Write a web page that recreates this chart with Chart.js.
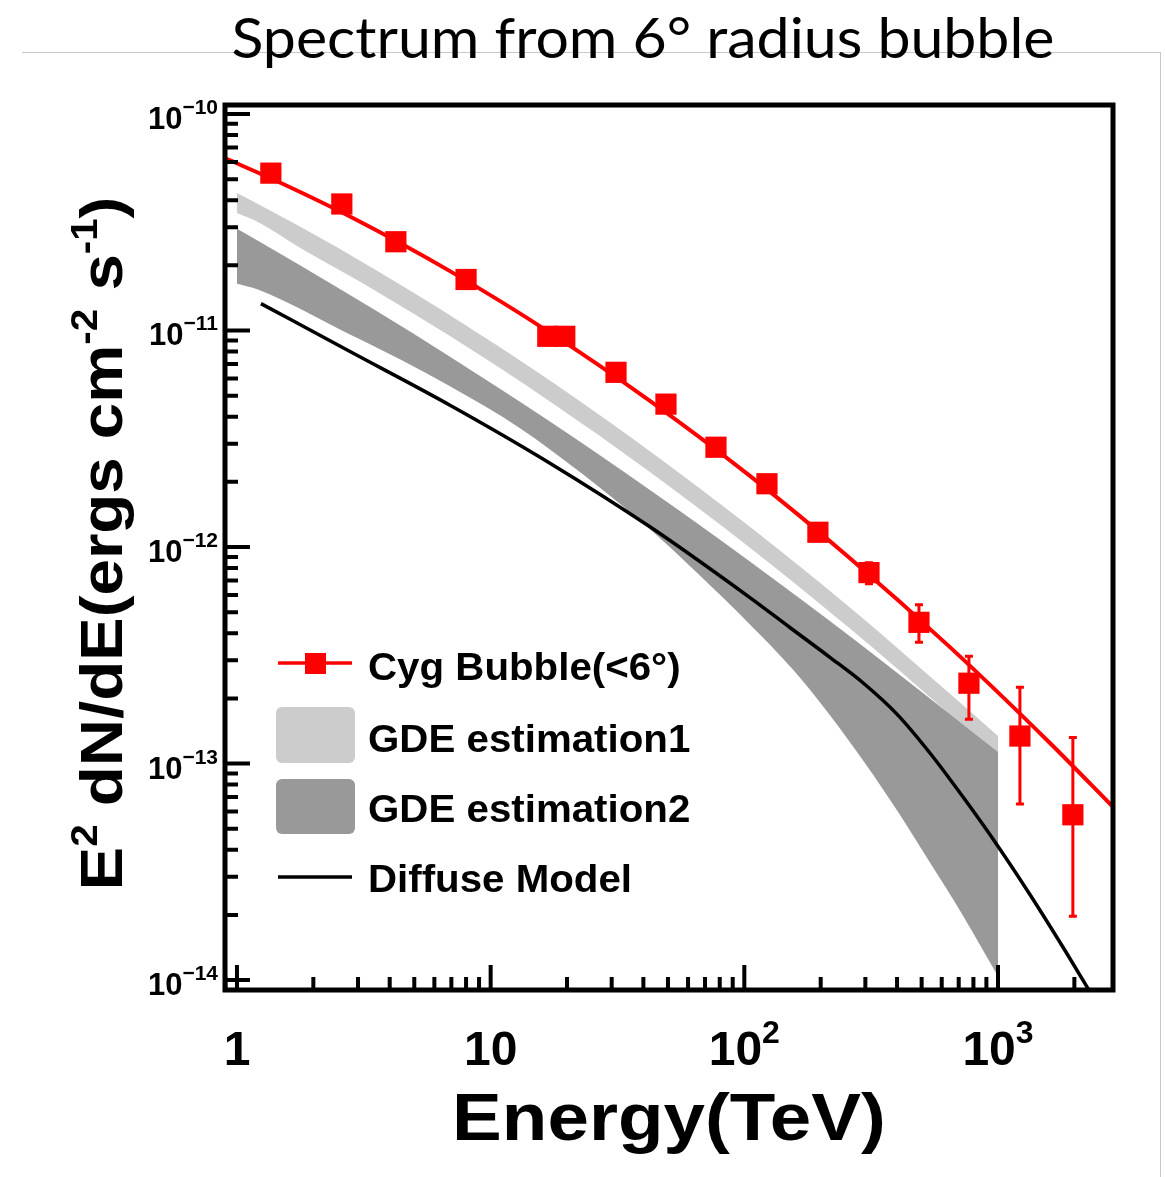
<!DOCTYPE html>
<html>
<head>
<meta charset="utf-8">
<title>Spectrum from 6° radius bubble</title>
<script src="https://cdn.jsdelivr.net/npm/chart.js@4.4.1/dist/chart.umd.min.js"></script>
<style>
  html, body { margin: 0; padding: 0; background: #fff; }
  #wrap { position: relative; width: 1165px; height: 1177px; overflow: hidden; }
  #slide { position: absolute; left: 22px; top: 52px; width: 1138px; height: 1140px;
           border-top: 1px solid #c8c8c8; border-right: 1px solid #c8c8c8; }
  canvas { position: absolute; left: 0; top: 0; }
</style>
</head>
<body>
<div id="wrap">
  <div id="slide"></div>
  <canvas id="spectrum" width="1165" height="1177"></canvas>
</div>
<script>
// measured points (TeV, erg cm^-2 s^-1)
const energyTeV = [1.36, 2.59, 4.23, 8.0, 16.8, 19.6, 31.2, 49.1, 77.3, 122.8, 195, 310, 488, 768, 1220, 1973];
const fluxCyg   = [5.33e-11, 3.84e-11, 2.57e-11, 1.72e-11, 9.4e-12, 9.4e-12, 6.41e-12, 4.57e-12, 2.89e-12, 1.96e-12, 1.17e-12, 7.62e-13, 4.49e-13, 2.35e-13, 1.34e-13, 5.8e-14];
const fluxCygLo = [5.2e-11, 3.75e-11, 2.5e-11, 1.68e-11, 9.2e-12, 9.2e-12, 6.25e-12, 4.45e-12, 2.8e-12, 1.9e-12, 1.12e-12, 6.77e-13, 3.63e-13, 1.60e-13, 6.5e-14, 1.97e-14];
const fluxCygHi = [5.45e-11, 3.93e-11, 2.64e-11, 1.76e-11, 9.6e-12, 9.6e-12, 6.57e-12, 4.69e-12, 2.98e-12, 2.02e-12, 1.22e-12, 8.47e-13, 5.42e-13, 3.13e-13, 2.25e-13, 1.32e-13];

// fitted spectrum
const fitEnergy = [0.897, 1.412, 2.789, 6.914, 17.13, 42.45, 105.2, 260.8, 646.4, 1602, 2838];
const fitFlux   = [6.25e-11, 4.94e-11, 3.36e-11, 1.88e-11, 9.78e-12, 4.73e-12, 2.13e-12, 8.88e-13, 3.45e-13, 1.245e-13, 6.31e-14];

// GDE estimation 1 band
const gde1Energy = [1, 1.21, 1.771, 3.499, 6.914, 17.13, 42.45, 105.2, 260.8, 646.4, 1000];
const gde1High   = [4.32e-11, 3.84e-11, 3.02e-11, 1.915e-11, 1.177e-11, 5.87e-12, 2.77e-12, 1.24e-12, 5.25e-13, 2.10e-13, 1.34e-13];
const gde1Low    = [3.49e-11, 3.17e-11, 2.41e-11, 1.532e-11, 9.42e-12, 4.70e-12, 2.22e-12, 9.93e-13, 4.20e-13, 1.68e-13, 1.07e-13];

// GDE estimation 2 band
const gde2HighEnergy = [1, 1.21, 1.771, 3.499, 6.914, 17.13, 42.45, 105.2, 260.8, 646.4, 1000];
const gde2High       = [2.95e-11, 2.60e-11, 2.00e-11, 1.244e-11, 7.57e-12, 3.80e-12, 1.835e-12, 8.58e-13, 3.87e-13, 1.69e-13, 1.13e-13];
const gde2LowEnergy  = [1, 1.21, 2.789, 4.39, 6.914, 13.05, 22.49, 40.57, 66.8, 105.2, 155.4, 217.5, 298.7, 410.5, 539, 727.1, 1000];
const gde2Low        = [1.645e-11, 1.545e-11, 9.58e-12, 7.36e-12, 5.52e-12, 3.54e-12, 2.22e-12, 1.266e-12, 7.38e-13, 4.39e-13, 2.72e-13, 1.673e-13, 1.006e-13, 5.80e-14, 3.49e-14, 1.99e-14, 1.042e-14];

// diffuse model
const diffEnergy = [1.243, 2.789, 6.914, 17.13, 42.45, 105.2, 151.2, 217.5, 293.4, 399.5, 539, 727.1, 990.1, 1336, 1835, 2521];
const diffFlux   = [1.331e-11, 8.00e-12, 4.52e-12, 2.44e-12, 1.24e-12, 5.84e-13, 4.25e-13, 3.095e-13, 2.361e-13, 1.692e-13, 1.119e-13, 7.02e-14, 4.22e-14, 2.485e-14, 1.373e-14, 7.42e-15];

// axis ticks
const xMajor = [1, 10, 100, 1000];
const xMajorExp = [null, null, 2, 3];
const yMajorExp = [-10, -11, -12, -13, -14];

const RED = '#ff0000';
const LIGHT = '#cccccc';
const DARK = '#999999';
const HELV = "'Liberation Sans', Arial, Helvetica, sans-serif";

const pts = (xs, ys) => xs.map((v, i) => ({ x: v, y: ys[i] }));

function textWidth(ctx, parts) {
  let w = 0;
  parts.forEach(p => { ctx.font = p.font; w += ctx.measureText(p.text).width; });
  return w;
}

// draws a run of text pieces (superscripts use "rise"), sx stretches horizontally
function drawParts(ctx, parts, x, y, align, sx = 1) {
  const w = textWidth(ctx, parts) * sx;
  const start = align === 'center' ? x - w / 2 : align === 'right' ? x - w : x;
  ctx.save();
  ctx.translate(start, y);
  ctx.scale(sx, 1);
  ctx.textAlign = 'left';
  ctx.textBaseline = 'alphabetic';
  let cx = 0;
  parts.forEach(p => {
    ctx.font = p.font;
    ctx.fillText(p.text, cx, -(p.rise || 0));
    cx += ctx.measureText(p.text).width;
  });
  ctx.restore();
}

const decor = {
  id: 'decor',
  afterDatasetsDraw(chart) {
    const { ctx, scales: { x, y } } = chart;
    ctx.save();
    ctx.strokeStyle = RED;
    ctx.lineWidth = 3;
    energyTeV.forEach((e, i) => {
      const px = x.getPixelForValue(e);
      const top = y.getPixelForValue(fluxCygHi[i]);
      const bot = y.getPixelForValue(fluxCygLo[i]);
      ctx.beginPath();
      ctx.moveTo(px, top); ctx.lineTo(px, bot);
      ctx.moveTo(px - 4, top); ctx.lineTo(px + 4, top);
      ctx.moveTo(px - 4, bot); ctx.lineTo(px + 4, bot);
      ctx.stroke();
    });
    ctx.restore();
  },
  afterDraw(chart) {
    const { ctx, chartArea: a, scales: { x, y } } = chart;
    ctx.save();
    ctx.fillStyle = '#000';
    ctx.strokeStyle = '#000';

    // frame
    ctx.lineWidth = 5;
    ctx.strokeRect(a.left, a.top, a.right - a.left, a.bottom - a.top);

    // x ticks (pointing into the plot)
    ctx.lineWidth = 4;
    ctx.beginPath();
    for (let d = 0.1; d <= 1000; d *= 10) {
      for (let m = 1; m <= 9; m++) {
        const v = d * m;
        if (v < x.min || v > x.max) continue;
        const px = x.getPixelForValue(v);
        const len = m === 1 ? 25 : 13;
        ctx.moveTo(px, a.bottom); ctx.lineTo(px, a.bottom - len);
      }
    }
    // y ticks
    for (let e = -15; e <= -10; e++) {
      for (let m = 1; m <= 9; m++) {
        const v = m * Math.pow(10, e);
        if (v < y.min || v > y.max) continue;
        const py = y.getPixelForValue(v);
        const len = m === 1 ? 25 : 13;
        ctx.moveTo(a.left, py); ctx.lineTo(a.left + len, py);
      }
    }
    ctx.stroke();

    // x tick labels
    xMajor.forEach((v, i) => {
      const px = x.getPixelForValue(v);
      const parts = xMajorExp[i] === null
        ? [{ text: String(v), font: `bold 48px ${HELV}` }]
        : [{ text: '10', font: `bold 48px ${HELV}` },
           { text: String(xMajorExp[i]), font: `bold 32px ${HELV}`, rise: 22 }];
      drawParts(ctx, parts, px, 1065, 'center');
    });

    // y tick labels
    yMajorExp.forEach(e => {
      const py = y.getPixelForValue(Math.pow(10, e));
      drawParts(ctx, [
        { text: '10', font: `bold 31px ${HELV}` },
        { text: '\u2212' + Math.abs(e), font: `bold 21px ${HELV}`, rise: 15 }
      ], 218, py + 15, 'right');
    });

    // axis titles
    drawParts(ctx, [{ text: 'Energy(TeV)', font: `bold 66px ${HELV}` }],
      (a.left + a.right) / 2, 1140, 'center', 1.13);

    ctx.save();
    ctx.translate(122, (a.top + a.bottom) / 2 - 4);
    ctx.rotate(-Math.PI / 2);
    const big = `bold 60px ${HELV}`, sup = `bold 37px ${HELV}`;
    drawParts(ctx, [
      { text: 'E', font: big }, { text: '2', font: sup, rise: 25 },
      { text: ' dN/dE(ergs cm', font: big }, { text: '-2', font: sup, rise: 25 },
      { text: ' s', font: big }, { text: '-1', font: sup, rise: 25 },
      { text: ')', font: big }
    ], 0, 0, 'center', 1.09);
    ctx.restore();

    // legend
    const lf = `bold 38px ${HELV}`;
    ctx.strokeStyle = RED;
    ctx.fillStyle = RED;
    ctx.lineWidth = 3.5;
    ctx.beginPath(); ctx.moveTo(278, 663); ctx.lineTo(352, 663); ctx.stroke();
    ctx.fillRect(305, 653, 21, 21);

    ctx.fillStyle = LIGHT;
    ctx.beginPath(); ctx.roundRect(276, 707, 79, 56, 6); ctx.fill();
    ctx.fillStyle = DARK;
    ctx.beginPath(); ctx.roundRect(276, 779, 79, 55, 6); ctx.fill();

    ctx.strokeStyle = '#000';
    ctx.beginPath(); ctx.moveTo(278, 877); ctx.lineTo(352, 877); ctx.stroke();

    ctx.fillStyle = '#000';
    drawParts(ctx, [{ text: 'Cyg Bubble(<6\u00b0)', font: lf }], 368, 680, 'left', 1.06);
    drawParts(ctx, [{ text: 'GDE estimation1', font: lf }], 368, 752, 'left', 1.06);
    drawParts(ctx, [{ text: 'GDE estimation2', font: lf }], 368, 822, 'left', 1.06);
    drawParts(ctx, [{ text: 'Diffuse Model', font: lf }], 368, 892, 'left', 1.06);

    // slide title
    const title = 'Spectrum from 6\u00b0 radius bubble';
    const tf = `56px Lato, 'Open Sans', sans-serif`;
    ctx.font = tf;
    const tw = ctx.measureText(title).width;
    drawParts(ctx, [{ text: title, font: tf }], 643, 58, 'center', 823 / tw);
    ctx.restore();
  }
};

new Chart(document.getElementById('spectrum'), {
  type: 'line',
  data: {
    datasets: [
      {
        label: 'Cyg Bubble(<6\u00b0)',
        data: pts(energyTeV, fluxCyg),
        showLine: false,
        pointStyle: 'rect',
        pointRadius: 15,
        pointBackgroundColor: RED,
        pointBorderWidth: 0
      },
      {
        label: 'fit',
        data: pts(fitEnergy, fitFlux),
        borderColor: RED,
        borderWidth: 4,
        pointRadius: 0,
        cubicInterpolationMode: 'monotone'
      },
      {
        label: 'Diffuse Model',
        data: pts(diffEnergy, diffFlux),
        borderColor: '#000',
        borderWidth: 3.5,
        pointRadius: 0,
        cubicInterpolationMode: 'monotone'
      },
      {
        label: 'GDE estimation2',
        data: pts(gde2HighEnergy, gde2High),
        borderWidth: 0,
        pointRadius: 0,
        backgroundColor: DARK,
        fill: '+1',
        cubicInterpolationMode: 'monotone'
      },
      {
        label: 'gde2 low',
        data: pts(gde2LowEnergy, gde2Low),
        borderWidth: 0,
        pointRadius: 0,
        fill: false,
        cubicInterpolationMode: 'monotone'
      },
      {
        label: 'GDE estimation1',
        data: pts(gde1Energy, gde1High),
        borderWidth: 0,
        pointRadius: 0,
        backgroundColor: LIGHT,
        fill: '+1',
        cubicInterpolationMode: 'monotone'
      },
      {
        label: 'gde1 low',
        data: pts(gde1Energy, gde1Low),
        borderWidth: 0,
        pointRadius: 0,
        fill: false,
        cubicInterpolationMode: 'monotone'
      }
    ]
  },
  options: {
    responsive: false,
    animation: false,
    devicePixelRatio: 1,
    layout: { padding: { left: 225, top: 105, right: 52, bottom: 187 } },
    scales: {
      x: { type: 'logarithmic', min: 0.897, max: 2840, display: false },
      y: { type: 'logarithmic', min: 9.2e-15, max: 1.1e-10, display: false }
    },
    plugins: {
      legend: { display: false },
      tooltip: { enabled: false },
      title: { display: false }
    }
  },
  plugins: [decor]
});
</script>
</body>
</html>
